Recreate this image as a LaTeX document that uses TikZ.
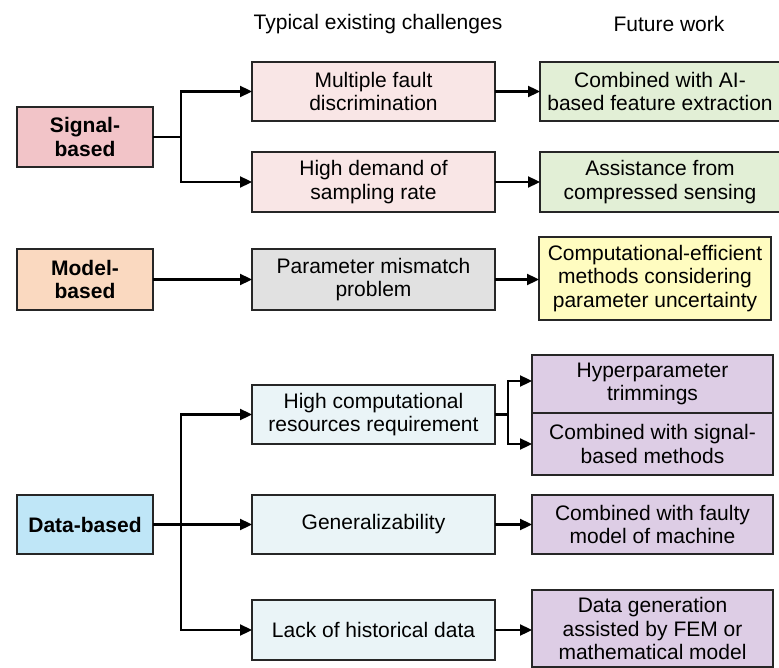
\documentclass[tikz,border=0pt]{standalone}
\usepackage{fontspec}
\setmainfont{Liberation Sans}
\usetikzlibrary{arrows.meta}
\definecolor{sigfill}{HTML}{F2C4C8}
\definecolor{modfill}{HTML}{FAD9C0}
\definecolor{datfill}{HTML}{BFE6F7}
\definecolor{pinkL}{HTML}{F9E6E6}
\definecolor{greyL}{HTML}{E1E1E1}
\definecolor{blueL}{HTML}{EAF4F7}
\definecolor{greenL}{HTML}{E2EFD6}
\definecolor{yellowL}{HTML}{FFFCC0}
\definecolor{purpleL}{HTML}{DDCDE5}
\begin{document}
\begin{tikzpicture}[x=1pt,y=-1pt,
  box/.style={draw=black!85, line width=2pt, inner sep=0pt, outer sep=0pt, align=center,
    font=\fontsize{21}{23.8}\selectfont, text=black},
  catbox/.style={box, font=\fontsize{21}{23.8}\selectfont\bfseries, minimum width=136pt, minimum height=60pt},
  chbox/.style={box, minimum width=243pt, minimum height=59pt},
  conn/.style={line width=2.3pt, draw=black},
  arr/.style={conn, -{Triangle[length=12pt,width=11pt]}},
  head/.style={font=\fontsize{21}{23.8}\selectfont, text=black}]
\useasboundingbox (0,0) rectangle (779,668);

% headers
\node[head] (h1) at (378,24) {Typical existing challenges};
\node[head] (h2) at (669,24) {Future work};

% categories
\node[catbox, fill=sigfill] (sig) at (85,137) {Signal-\\based};
\node[catbox, fill=modfill, minimum height=61pt] (mod) at (85,279.5) {Model-\\based};
\node[catbox, fill=datfill, minimum height=59pt] (dat) at (85,524.5) {Data-based};

% challenges
\node[chbox, fill=pinkL] (c1) at (373.5,91.5) {Multiple fault\\discrimination};
\node[chbox, fill=pinkL, minimum height=60pt] (c2) at (373.5,182) {High demand of\\sampling rate};
\node[chbox, fill=greyL, minimum height=61pt] (c3) at (373.5,279.5) {Parameter mismatch\\problem};
\node[chbox, fill=blueL] (c4) at (373.5,414.5) {High computational\\resources requirement};
\node[chbox, fill=blueL] (c5) at (373.5,524.5) {Generalizability};
\node[chbox, fill=blueL, minimum height=60pt] (c6) at (373.5,630) {Lack of historical data};

% future work
\node[box, fill=greenL, minimum width=240pt, minimum height=59pt] (f1) at (660,91.5) {Combined with AI-\\based feature extraction};
\node[box, fill=greenL, minimum width=240pt, minimum height=60pt] (f2) at (660,182) {Assistance from\\compressed sensing};
\node[box, fill=yellowL, minimum width=232pt, minimum height=83pt] (f3) at (655,278.5) {Computational-efficient\\methods considering\\parameter uncertainty};
\node[box, fill=purpleL, minimum width=241pt, minimum height=58pt] (f4) at (652.5,384) {Hyperparameter\\trimmings};
\node[box, fill=purpleL, minimum width=241pt, minimum height=62pt] (f5) at (652.5,444) {Combined with signal-\\based methods};
\node[box, fill=purpleL, minimum width=241pt, minimum height=59pt] (f6) at (652.5,524.5) {Combined with faulty\\model of machine};
\node[box, fill=purpleL, minimum width=241pt, minimum height=77pt] (f7) at (652.5,628.5) {Data generation\\assisted by FEM or\\mathematical model};

% junctions
\coordinate (j1) at (181,137);
\coordinate (j3) at (181,524.5);
\coordinate (j4) at (508,414.5);

% signal
\draw[conn] (sig.east) -- (j1);
\draw[arr] (j1) |- (c1.west);
\draw[arr] (j1) |- (c2.west);
\draw[arr] (c1.east) -- (f1.west);
\draw[arr] (c2.east) -- (f2.west);

% model
\draw[arr] (mod.east) -- (c3.west);
\draw[arr] (c3.east) -- (f3.west |- c3.east);

% data
\draw[arr] (dat.east) -- (c5.west);
\draw[arr] (j3) |- (c4.west);
\draw[arr] (j3) |- (c6.west);
\draw[conn] (c4.east) -- (j4);
\draw[arr] (j4) |- ([yshift=3pt]f4.west);
\draw[arr] (j4) |- (f5.west);
\draw[arr] (c5.east) -- (f6.west);
\draw[arr] (c6.east) -- (f7.west |- c6.east);
\end{tikzpicture}
\end{document}
